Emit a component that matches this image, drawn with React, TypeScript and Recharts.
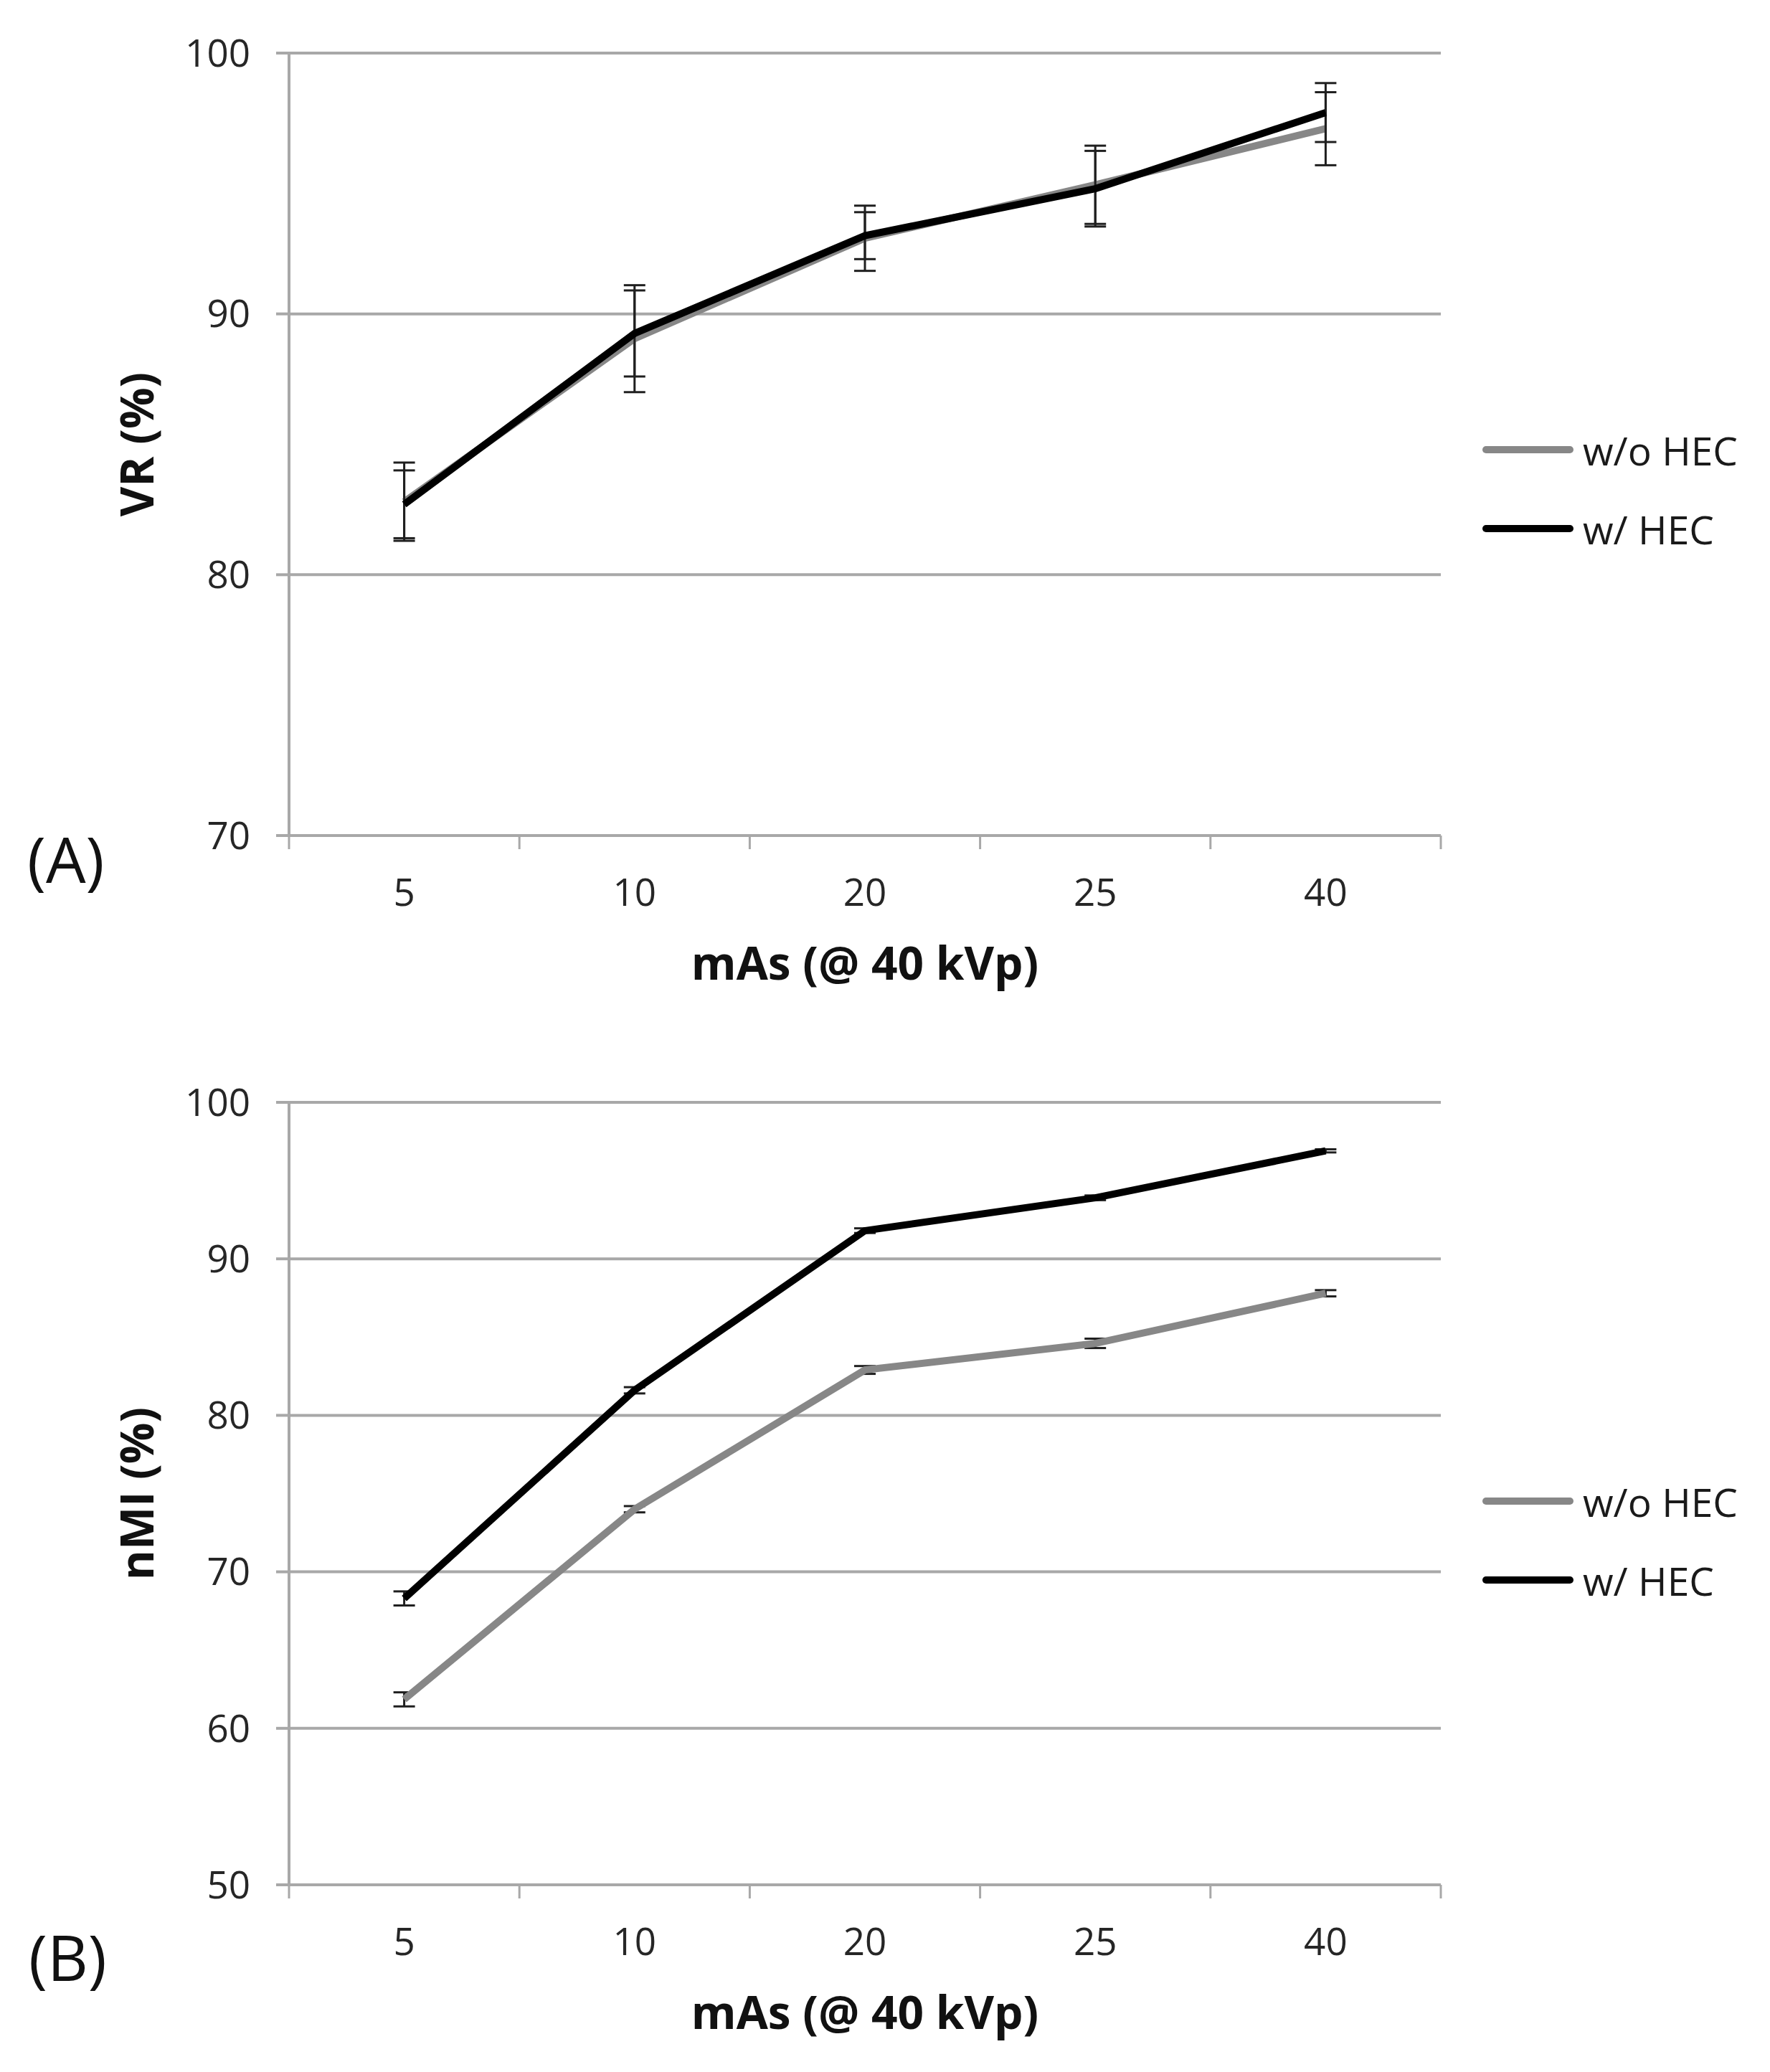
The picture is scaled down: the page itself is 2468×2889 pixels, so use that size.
import React from 'react';
import { LineChart, Line, XAxis, YAxis, CartesianGrid, ErrorBar, Legend } from 'recharts';

const categories = ['5', '10', '20', '25', '40'];
const seriesNames = ['w/o HEC', 'w/ HEC'];

const vrWithout = [82.8, 89.05, 92.9, 94.95, 97.1];
const vrWithoutErr = [1.5, 2.05, 1.25, 1.5, 1.4];
const vrWith = [82.7, 89.25, 93.0, 94.8, 97.72];
const vrWithErr = [1.3, 1.65, 0.9, 1.45, 1.13];

const nmiWithout = [61.85, 74.0, 82.9, 84.6, 87.8];
const nmiWithoutErr = [0.45, 0.2, 0.25, 0.3, 0.2];
const nmiWith = [68.3, 81.6, 91.8, 93.9, 96.9];
const nmiWithErr = [0.45, 0.2, 0.15, 0.15, 0.1];

const vrTicks = [70, 80, 90, 100];
const nmiTicks = [50, 60, 70, 80, 90, 100];
const boundaryTicks = [0, 1, 2, 3, 4, 5];
const centerTicks = [0.5, 1.5, 2.5, 3.5, 4.5];

const GRID = '#a8a8a8';
const GRAY = '#878787';
const FONT = '"Open Sans", "DejaVu Sans", sans-serif';

const buildRows = (wo: number[], woErr: number[], w: number[], wErr: number[]) =>
  categories.map((c, i) => ({
    x: i + 0.5,
    label: c,
    without: wo[i],
    withoutErr: woErr[i],
    with: w[i],
    withErr: wErr[i],
  }));

const vrRows = buildRows(vrWithout, vrWithoutErr, vrWith, vrWithErr);
const nmiRows = buildRows(nmiWithout, nmiWithoutErr, nmiWith, nmiWithErr);

const XTitle = (props: any) => {
  const vb = props.viewBox || {};
  return (
    <text
      x={vb.x + vb.width / 2}
      y={vb.y + 200}
      textAnchor="middle"
      fontSize={64}
      fontWeight={700}
      fontFamily={FONT}
      fill="#111"
    >
      mAs (@ 40 kVp)
    </text>
  );
};

const YTitle = (props: any) => {
  const vb = props.viewBox || {};
  const x = vb.x + 214;
  const y = vb.y + vb.height / 2;
  return (
    <text
      x={x}
      y={y}
      transform={`rotate(-90 ${x} ${y})`}
      textAnchor="middle"
      fontSize={64}
      fontWeight={700}
      fontFamily={FONT}
      fill="#111"
    >
      {props.text}
    </text>
  );
};

const LegendBox = (props: any) => {
  const payload = [...(props.payload || [])].sort(
    (a: any, b: any) => seriesNames.indexOf(a.value) - seriesNames.indexOf(b.value)
  );
  return (
    <div style={{ display: 'flex', flexDirection: 'column', fontFamily: FONT }}>
      {payload.map((p: any) => (
        <div key={p.value} style={{ height: 110, display: 'flex', alignItems: 'center' }}>
          <svg width={140} height={20} style={{ display: 'block' }}>
            <line x1={11} x2={128} y1={10} y2={10} stroke={p.color} strokeWidth={10} strokeLinecap="round" />
          </svg>
          <span style={{ fontSize: 55, marginLeft: 6, color: '#1a1a1a', lineHeight: 1, whiteSpace: 'nowrap' }}>
            {p.value}
          </span>
        </div>
      ))}
    </div>
  );
};

type PanelProps = {
  rows: any[];
  domain: [number, number];
  ticks: number[];
  yTitle: string;
  legendTop: number;
};

const Panel = ({ rows, domain, ticks, yTitle, legendTop }: PanelProps) => (
  <LineChart width={2468} height={1420} data={rows} margin={{ top: 74, right: 459, bottom: 253, left: 0 }}>
    <CartesianGrid horizontal vertical={false} stroke={GRID} strokeWidth={4} xAxisId="grid" />
    <XAxis
      xAxisId="grid"
      type="number"
      dataKey="x"
      domain={[0, 5]}
      ticks={boundaryTicks}
      allowDataOverflow
      tickFormatter={() => ''}
      tickSize={19}
      height={1}
      axisLine={{ stroke: GRID, strokeWidth: 4 }}
      tickLine={{ stroke: GRID, strokeWidth: 3 }}
    />
    <XAxis
      xAxisId="lab"
      type="number"
      dataKey="x"
      domain={[0, 5]}
      ticks={centerTicks}
      allowDataOverflow
      height={1}
      axisLine={false}
      tickLine={false}
      tickSize={0}
      tickMargin={59}
      tickFormatter={(v: number) => categories[Math.floor(v)]}
      tick={{ fontSize: 53, fill: '#262626', fontFamily: FONT }}
      label={<XTitle />}
    />
    <YAxis
      type="number"
      domain={domain}
      ticks={ticks}
      allowDataOverflow
      width={403}
      tickSize={18}
      tickMargin={36}
      axisLine={{ stroke: GRID, strokeWidth: 4 }}
      tickLine={{ stroke: GRID, strokeWidth: 4 }}
      tick={{ fontSize: 53, fill: '#262626', fontFamily: FONT }}
      label={<YTitle text={yTitle} />}
    />
    <Legend
      layout="vertical"
      align="center"
      verticalAlign="middle"
      content={<LegendBox />}
      wrapperStyle={{ left: 2061, top: legendTop - 55, width: 420 }}
    />
    <Line
      xAxisId="grid"
      type="linear"
      dataKey="without"
      name={seriesNames[0]}
      stroke={GRAY}
      strokeWidth={10}
      dot={false}
      isAnimationActive={false}
    >
      <ErrorBar dataKey="withoutErr" width={15} strokeWidth={3} stroke="#1f1f1f" direction="y" />
    </Line>
    <Line
      xAxisId="grid"
      type="linear"
      dataKey="with"
      name={seriesNames[1]}
      stroke="#000"
      strokeWidth={10}
      dot={false}
      isAnimationActive={false}
    >
      <ErrorBar dataKey="withErr" width={15} strokeWidth={3} stroke="#1f1f1f" direction="y" />
    </Line>
  </LineChart>
);

export default function App() {
  return (
    <div style={{ position: 'relative', width: 2468, height: 2889, background: '#fff', fontFamily: FONT }}>
      <style>{`body{margin:0;background:#fff;}`}</style>
      <div style={{ position: 'absolute', left: 0, top: 0 }}>
        <Panel rows={vrRows} domain={[70, 100]} ticks={vrTicks} yTitle="VR (%)" legendTop={627} />
      </div>
      <div style={{ position: 'absolute', left: 0, top: 1463 }}>
        <Panel rows={nmiRows} domain={[50, 100]} ticks={nmiTicks} yTitle="nMI (%)" legendTop={630} />
      </div>
      <svg width={2468} height={2889} style={{ position: 'absolute', left: 0, top: 0, pointerEvents: 'none' }}>
        <text x={38} y={1231} fontSize={88} fontFamily={FONT} fill="#111">(A)</text>
        <text x={40} y={2762} fontSize={88} fontFamily={FONT} fill="#111">(B)</text>
      </svg>
    </div>
  );
}
